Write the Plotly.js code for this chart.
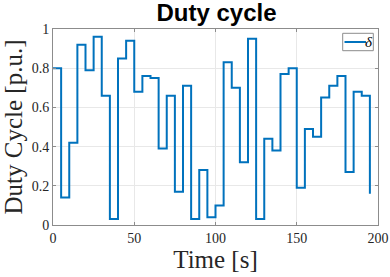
<!DOCTYPE html>
<html>
<head>
<meta charset="utf-8">
<script src="https://cdn.plot.ly/plotly-3.0.1.min.js"></script>
<style>html,body{margin:0;padding:0;background:#fff;}#chart{width:390px;height:277px;}</style>
</head>
<body>
<div id="chart"></div>
<script>
const timeS = [0,5,10,15,20,25,30,35,40,45,50,55,60,65,70,75,80,85,90,95,100,105,110,115,120,125,130,135,140,145,150,155,160,165,170,175,180,185,190,195];
const dutyCycle = [0.80,0.14,0.42,0.92,0.79,0.96,0.66,0.03,0.85,0.94,0.68,0.76,0.75,0.39,0.66,0.17,0.71,0.03,0.28,0.04,0.10,0.83,0.70,0.32,0.95,0.03,0.44,0.38,0.77,0.80,0.19,0.49,0.45,0.65,0.71,0.76,0.27,0.68,0.66,0.16];
const xTicks = [0,50,100,150,200];
const yTicks = [0,0.2,0.4,0.6,0.8,1];
const seriesName = 'δ';

const serif = 'Liberation Serif, DejaVu Serif, serif';
const lineColor = '#0072BD';
const axisCommon = {
  showline: true, linecolor: '#8c8c8c', linewidth: 1, mirror: 'allticks',
  ticks: 'inside', ticklen: 3, tickcolor: '#8c8c8c', tickwidth: 1,
  showgrid: true, gridcolor: '#e8e8e8', gridwidth: 1, zeroline: false,
  tickfont: {family: serif, size: 14, color: '#262626'},
  automargin: false
};
const trace = {
  x: timeS, y: dutyCycle, type: 'scatter', mode: 'lines',
  line: {shape: 'hv', color: lineColor, width: 2},
  name: seriesName, showlegend: false
};

// manual legend box (paper coordinates of the plot area)
const PL = 53, PR = 378, PT = 29, PB = 225;
const px = v => (v - PL) / (PR - PL);
const py = v => (PB - v) / (PB - PT);

const layout = {
  width: 390, height: 277,
  margin: {l: PL, r: 390 - PR, t: PT, b: 277 - PB, pad: 0},
  paper_bgcolor: '#fff', plot_bgcolor: '#fff',
  title: {text: '<b>Duty cycle</b>', font: {family: 'Liberation Sans, Arial, sans-serif', size: 24, color: '#000'},
          x: 216.5 / 390, xanchor: 'center', y: 1 - 12.5 / 277, yanchor: 'middle'},
  xaxis: Object.assign({}, axisCommon, {
    range: [0, 200], tickvals: xTicks, ticktext: xTicks.map(String),
    title: {text: 'Time [s]', font: {family: serif, size: 25, color: '#262626'}, standoff: 4}
  }),
  yaxis: Object.assign({}, axisCommon, {
    range: [0, 1], tickvals: yTicks, ticktext: yTicks.map(String),
    title: {text: 'Duty Cycle [p.u.]', font: {family: serif, size: 25, color: '#262626'}, standoff: 4}
  }),
  showlegend: false,
  shapes: [
    {type: 'rect', xref: 'paper', yref: 'paper', x0: px(342.7), x1: px(373.3), y0: py(50.7), y1: py(33.3),
     line: {color: '#8c8c8c', width: 1}, fillcolor: '#fff', layer: 'above'},
    {type: 'line', xref: 'paper', yref: 'paper', x0: px(344.5), x1: px(366), y0: py(42), y1: py(42),
     line: {color: lineColor, width: 2}, layer: 'above'}
  ],
  annotations: [
    {xref: 'paper', yref: 'paper', x: px(369), y: py(41.5), xanchor: 'center', yanchor: 'middle',
     text: '<i>' + seriesName + '</i>', showarrow: false, font: {family: serif, size: 15, color: '#000'}}
  ]
};
Plotly.newPlot('chart', [trace], layout, {displayModeBar: false, staticPlot: true});
</script>
</body>
</html>
